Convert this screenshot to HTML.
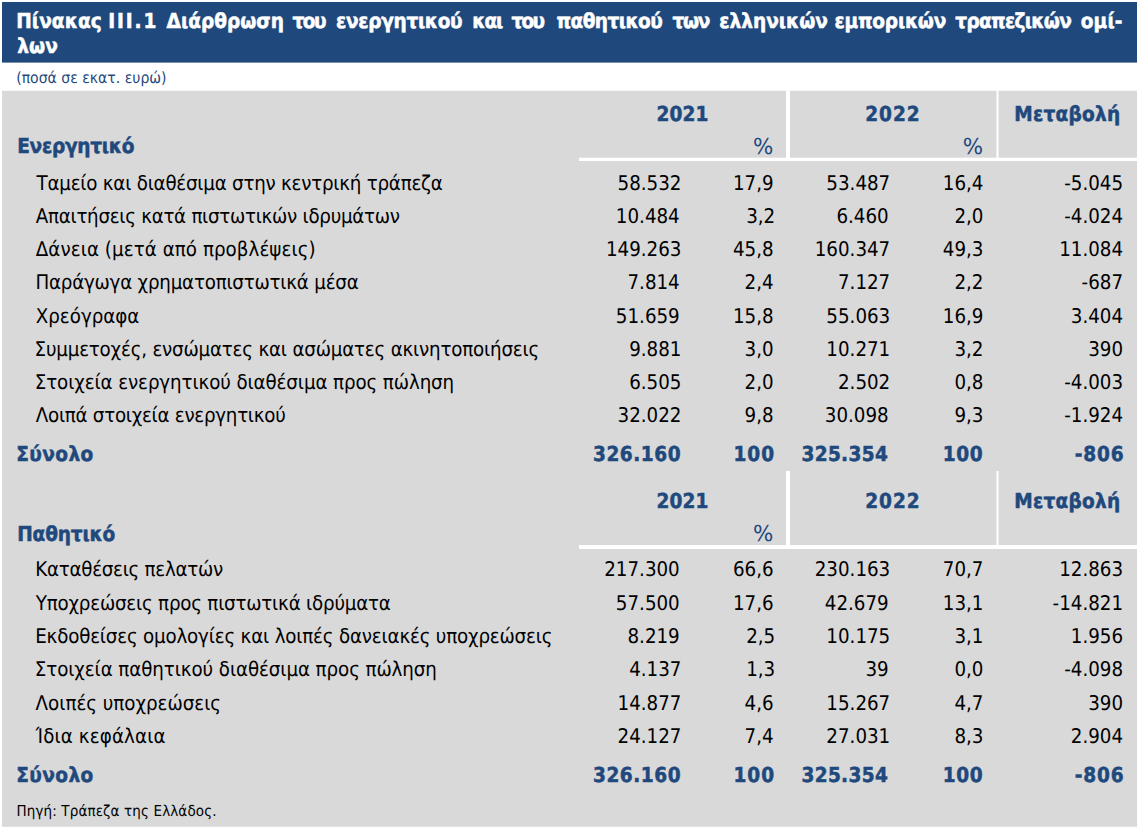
<!DOCTYPE html>
<html lang="el">
<head>
<meta charset="utf-8">
<title>Πίνακας ΙΙΙ.1</title>
<style>
html,body{margin:0;padding:0;background:#fff;}
body{width:1137px;height:828px;overflow:hidden;}
svg{display:block;font-family:"DejaVu Sans Condensed", "Liberation Sans", sans-serif;}
text{fill:#000;white-space:pre;text-rendering:geometricPrecision;}
.b{font-weight:bold;fill:#1f497d;stroke:#1f497d;stroke-width:0.5px;}
.w{font-weight:bold;fill:#fff;stroke:#fff;stroke-width:0.5px;}
.p{fill:#1f497d;}
.s{fill:#1f497d;}
.k{fill:#000;}
.ln{fill:#fff;}
</style>
</head>
<body>
<svg width="1137" height="828" viewBox="0 0 1137 828">
<rect x="0" y="0" width="1137" height="828" fill="#fff"/>
<rect x="2" y="2" width="1135" height="60.6" fill="#1f497d"/>
<rect x="2" y="90.8" width="1135" height="736" fill="#d9d9d9"/>
<rect class="ln" x="579" y="157.7" width="558" height="3.3"/>
<rect class="ln" x="786" y="91" width="4" height="67"/>
<rect class="ln" x="996.5" y="91" width="2" height="67"/>
<rect class="ln" x="579" y="545" width="558" height="4"/>
<rect class="ln" x="786" y="471" width="4" height="74"/>
<rect class="ln" x="996.5" y="471" width="2" height="74"/>
<text class="w" y="27.9" font-size="20.6"><tspan id="t0" x="16.20" textLength="85.54">Πίνακας</tspan> <tspan id="t1" x="108.20" textLength="48.11">ΙΙΙ.1</tspan> <tspan id="t2" x="166.60" textLength="117.28">Διάρθρωση</tspan> <tspan id="t3" x="292.50" textLength="34.08">του</tspan> <tspan id="t4" x="335.90" textLength="126.70">ενεργητικού</tspan> <tspan id="t5" x="472.30" textLength="31.02">και</tspan> <tspan id="t6" x="511.50" textLength="33.63">του</tspan> <tspan id="t7" x="556.40" textLength="106.38">παθητικού</tspan> <tspan id="t8" x="672.50" textLength="37.86">των</tspan> <tspan id="t9" x="719.20" textLength="108.70">ελληνικών</tspan> <tspan id="t10" x="834.40" textLength="111.92">εμπορικών</tspan> <tspan id="t11" x="955.30" textLength="116.53">τραπεζικών</tspan> <tspan id="t12" x="1080.70" textLength="41.81">ομί-</tspan></text>
<text id="t13" class="w" x="17.30" y="53.2" textLength="40.47" font-size="20.6">λων</text>
<text id="t14" class="s" x="16.20" y="82.9" textLength="150.33" font-size="15.6">(ποσά σε εκατ. ευρώ)</text>
<text id="t15" class="b" x="656.60" y="120.7" textLength="51.84" font-size="20.6">2021</text>
<text id="t16" class="b" x="865.20" y="120.7" textLength="54.51" font-size="20.6">2022</text>
<text id="t17" class="b" x="1014.20" y="120.7" textLength="105.95" font-size="20.6">Μεταβολή</text>
<text id="t18" class="p" transform="translate(773.30 153.7) scale(1.0800 1)" text-anchor="end" font-size="22">%</text>
<text id="t19" class="p" transform="translate(983.00 153.7) scale(1.0800 1)" text-anchor="end" font-size="22">%</text>
<text id="t20" class="b" x="17.20" y="153.2" textLength="117.18" font-size="20.6">Ενεργητικό</text>
<text id="t21" x="36.60" y="189.6" textLength="406.22" font-size="20.3">Ταμείο και διαθέσιμα στην κεντρική τράπεζα</text>
<text id="t22" x="681.40" y="189.6" text-anchor="end" textLength="63.83" font-size="20.3">58.532</text>
<text id="t23" x="773.60" y="189.6" text-anchor="end" textLength="40.62" font-size="20.3">17,9</text>
<text id="t24" x="890.20" y="189.6" text-anchor="end" textLength="63.83" font-size="20.3">53.487</text>
<text id="t25" x="983.40" y="189.6" text-anchor="end" textLength="40.62" font-size="20.3">16,4</text>
<text id="t26" x="1123.00" y="189.6" text-anchor="end" textLength="58.81" font-size="20.3">-5.045</text>
<text id="t27" x="35.80" y="222.8" textLength="364.16" font-size="20.3">Απαιτήσεις κατά πιστωτικών ιδρυμάτων</text>
<text id="t28" x="679.70" y="222.8" text-anchor="end" textLength="63.83" font-size="20.3">10.484</text>
<text id="t29" x="775.20" y="222.8" text-anchor="end" textLength="29.02" font-size="20.3">3,2</text>
<text id="t30" x="888.60" y="222.8" text-anchor="end" textLength="52.22" font-size="20.3">6.460</text>
<text id="t31" x="983.40" y="222.8" text-anchor="end" textLength="29.02" font-size="20.3">2,0</text>
<text id="t32" x="1123.00" y="222.8" text-anchor="end" textLength="58.81" font-size="20.3">-4.024</text>
<text id="t33" x="35.80" y="255.9" textLength="279.73" font-size="20.3">Δάνεια (μετά από προβλέψεις)</text>
<text id="t34" x="681.40" y="255.9" text-anchor="end" textLength="75.44" font-size="20.3">149.263</text>
<text id="t35" x="773.60" y="255.9" text-anchor="end" textLength="40.62" font-size="20.3">45,8</text>
<text id="t36" x="890.20" y="255.9" text-anchor="end" textLength="75.44" font-size="20.3">160.347</text>
<text id="t37" x="983.40" y="255.9" text-anchor="end" textLength="40.62" font-size="20.3">49,3</text>
<text id="t38" x="1123.00" y="255.9" text-anchor="end" textLength="63.83" font-size="20.3">11.084</text>
<text id="t39" x="35.40" y="288.9" textLength="323.33" font-size="20.3">Παράγωγα χρηματοπιστωτικά μέσα</text>
<text id="t40" x="679.70" y="288.9" text-anchor="end" textLength="52.22" font-size="20.3">7.814</text>
<text id="t41" x="773.60" y="288.9" text-anchor="end" textLength="29.02" font-size="20.3">2,4</text>
<text id="t42" x="890.20" y="288.9" text-anchor="end" textLength="52.22" font-size="20.3">7.127</text>
<text id="t43" x="983.40" y="288.9" text-anchor="end" textLength="29.02" font-size="20.3">2,2</text>
<text id="t44" x="1123.00" y="288.9" text-anchor="end" textLength="41.41" font-size="20.3">-687</text>
<text id="t45" x="35.80" y="322.5" textLength="103.59" font-size="20.3">Χρεόγραφα</text>
<text id="t46" x="679.70" y="322.5" text-anchor="end" textLength="63.83" font-size="20.3">51.659</text>
<text id="t47" x="773.60" y="322.5" text-anchor="end" textLength="40.62" font-size="20.3">15,8</text>
<text id="t48" x="890.20" y="322.5" text-anchor="end" textLength="63.83" font-size="20.3">55.063</text>
<text id="t49" x="983.40" y="322.5" text-anchor="end" textLength="40.62" font-size="20.3">16,9</text>
<text id="t50" x="1123.00" y="322.5" text-anchor="end" textLength="52.22" font-size="20.3">3.404</text>
<text id="t51" x="34.60" y="355.7" textLength="504.55" font-size="20.3">Συμμετοχές, ενσώματες και ασώματες ακινητοποιήσεις</text>
<text id="t52" x="681.40" y="355.7" text-anchor="end" textLength="52.22" font-size="20.3">9.881</text>
<text id="t53" x="773.60" y="355.7" text-anchor="end" textLength="29.02" font-size="20.3">3,0</text>
<text id="t54" x="890.20" y="355.7" text-anchor="end" textLength="63.83" font-size="20.3">10.271</text>
<text id="t55" x="983.40" y="355.7" text-anchor="end" textLength="29.02" font-size="20.3">3,2</text>
<text id="t56" x="1123.00" y="355.7" text-anchor="end" textLength="34.83" font-size="20.3">390</text>
<text id="t57" x="34.80" y="388.8" textLength="419.37" font-size="20.3">Στοιχεία ενεργητικού διαθέσιμα προς πώληση</text>
<text id="t58" x="681.40" y="388.8" text-anchor="end" textLength="52.22" font-size="20.3">6.505</text>
<text id="t59" x="773.60" y="388.8" text-anchor="end" textLength="29.02" font-size="20.3">2,0</text>
<text id="t60" x="890.20" y="388.8" text-anchor="end" textLength="52.22" font-size="20.3">2.502</text>
<text id="t61" x="983.40" y="388.8" text-anchor="end" textLength="29.02" font-size="20.3">0,8</text>
<text id="t62" x="1123.00" y="388.8" text-anchor="end" textLength="58.81" font-size="20.3">-4.003</text>
<text id="t63" x="35.80" y="421.6" textLength="249.94" font-size="20.3">Λοιπά στοιχεία ενεργητικού</text>
<text id="t64" x="681.40" y="421.6" text-anchor="end" textLength="63.83" font-size="20.3">32.022</text>
<text id="t65" x="773.60" y="421.6" text-anchor="end" textLength="29.02" font-size="20.3">9,8</text>
<text id="t66" x="888.60" y="421.6" text-anchor="end" textLength="63.83" font-size="20.3">30.098</text>
<text id="t67" x="983.40" y="421.6" text-anchor="end" textLength="29.02" font-size="20.3">9,3</text>
<text id="t68" x="1123.00" y="421.6" text-anchor="end" textLength="58.81" font-size="20.3">-1.924</text>
<text id="t69" class="b" x="16.20" y="460.7" textLength="77.14" font-size="20.6">Σύνολο</text>
<text id="t70" class="b" x="593.00" y="460.7" textLength="87.54" font-size="20.6">326.160</text>
<text id="t71" class="b" x="733.40" y="460.7" textLength="40.79" font-size="20.6">100</text>
<text id="t72" class="b" x="801.40" y="460.7" textLength="86.49" font-size="20.6">325.354</text>
<text id="t73" class="b" x="942.70" y="460.7" textLength="40.04" font-size="20.6">100</text>
<text id="t74" class="b" x="1074.70" y="460.7" textLength="48.91" font-size="20.6">-806</text>
<text id="t75" class="b" x="656.60" y="507.7" textLength="51.84" font-size="20.6">2021</text>
<text id="t76" class="b" x="865.20" y="507.7" textLength="54.51" font-size="20.6">2022</text>
<text id="t77" class="b" x="1014.20" y="507.7" textLength="105.95" font-size="20.6">Μεταβολή</text>
<text id="t78" class="p" transform="translate(773.30 540.7) scale(1.0800 1)" text-anchor="end" font-size="22">%</text>
<text id="t79" class="b" x="17.20" y="540.8" textLength="98.08" font-size="20.6">Παθητικό</text>
<text id="t80" x="35.20" y="576.4" textLength="188.03" font-size="20.3">Καταθέσεις πελατών</text>
<text id="t81" x="679.70" y="576.4" text-anchor="end" textLength="75.44" font-size="20.3">217.300</text>
<text id="t82" x="773.60" y="576.4" text-anchor="end" textLength="40.62" font-size="20.3">66,6</text>
<text id="t83" x="890.20" y="576.4" text-anchor="end" textLength="75.44" font-size="20.3">230.163</text>
<text id="t84" x="983.40" y="576.4" text-anchor="end" textLength="40.62" font-size="20.3">70,7</text>
<text id="t85" x="1123.00" y="576.4" text-anchor="end" textLength="63.83" font-size="20.3">12.863</text>
<text id="t86" x="35.80" y="609.6" textLength="355.03" font-size="20.3">Υποχρεώσεις προς πιστωτικά ιδρύματα</text>
<text id="t87" x="679.70" y="609.6" text-anchor="end" textLength="63.83" font-size="20.3">57.500</text>
<text id="t88" x="773.60" y="609.6" text-anchor="end" textLength="40.62" font-size="20.3">17,6</text>
<text id="t89" x="888.60" y="609.6" text-anchor="end" textLength="63.83" font-size="20.3">42.679</text>
<text id="t90" x="983.40" y="609.6" text-anchor="end" textLength="40.62" font-size="20.3">13,1</text>
<text id="t91" x="1123.00" y="609.6" text-anchor="end" textLength="70.42" font-size="20.3">-14.821</text>
<text id="t92" x="35.20" y="642.9" textLength="517.23" font-size="20.3">Εκδοθείσες ομολογίες και λοιπές δανειακές υποχρεώσεις</text>
<text id="t93" x="679.70" y="642.9" text-anchor="end" textLength="52.22" font-size="20.3">8.219</text>
<text id="t94" x="775.20" y="642.9" text-anchor="end" textLength="29.02" font-size="20.3">2,5</text>
<text id="t95" x="890.20" y="642.9" text-anchor="end" textLength="63.83" font-size="20.3">10.175</text>
<text id="t96" x="983.40" y="642.9" text-anchor="end" textLength="29.02" font-size="20.3">3,1</text>
<text id="t97" x="1123.00" y="642.9" text-anchor="end" textLength="52.22" font-size="20.3">1.956</text>
<text id="t98" x="34.80" y="676.4" textLength="402.07" font-size="20.3">Στοιχεία παθητικού διαθέσιμα προς πώληση</text>
<text id="t99" x="681.40" y="676.4" text-anchor="end" textLength="52.22" font-size="20.3">4.137</text>
<text id="t100" x="775.20" y="676.4" text-anchor="end" textLength="29.02" font-size="20.3">1,3</text>
<text id="t101" x="888.60" y="676.4" text-anchor="end" textLength="23.22" font-size="20.3">39</text>
<text id="t102" x="983.40" y="676.4" text-anchor="end" textLength="29.02" font-size="20.3">0,0</text>
<text id="t103" x="1123.00" y="676.4" text-anchor="end" textLength="58.81" font-size="20.3">-4.098</text>
<text id="t104" x="35.60" y="709.5" textLength="185.44" font-size="20.3">Λοιπές υποχρεώσεις</text>
<text id="t105" x="681.40" y="709.5" text-anchor="end" textLength="63.83" font-size="20.3">14.877</text>
<text id="t106" x="773.60" y="709.5" text-anchor="end" textLength="29.02" font-size="20.3">4,6</text>
<text id="t107" x="890.20" y="709.5" text-anchor="end" textLength="63.83" font-size="20.3">15.267</text>
<text id="t108" x="983.40" y="709.5" text-anchor="end" textLength="29.02" font-size="20.3">4,7</text>
<text id="t109" x="1123.00" y="709.5" text-anchor="end" textLength="34.83" font-size="20.3">390</text>
<text id="t110" x="35.60" y="742.5" textLength="129.95" font-size="20.3">Ίδια κεφάλαια</text>
<text id="t111" x="681.40" y="742.5" text-anchor="end" textLength="63.83" font-size="20.3">24.127</text>
<text id="t112" x="773.60" y="742.5" text-anchor="end" textLength="29.02" font-size="20.3">7,4</text>
<text id="t113" x="890.20" y="742.5" text-anchor="end" textLength="63.83" font-size="20.3">27.031</text>
<text id="t114" x="983.40" y="742.5" text-anchor="end" textLength="29.02" font-size="20.3">8,3</text>
<text id="t115" x="1123.00" y="742.5" text-anchor="end" textLength="52.22" font-size="20.3">2.904</text>
<text id="t116" class="b" x="16.20" y="781.8" textLength="77.14" font-size="20.6">Σύνολο</text>
<text id="t117" class="b" x="593.00" y="781.8" textLength="87.54" font-size="20.6">326.160</text>
<text id="t118" class="b" x="733.40" y="781.8" textLength="40.79" font-size="20.6">100</text>
<text id="t119" class="b" x="801.40" y="781.8" textLength="86.49" font-size="20.6">325.354</text>
<text id="t120" class="b" x="942.70" y="781.8" textLength="40.04" font-size="20.6">100</text>
<text id="t121" class="b" x="1074.70" y="781.8" textLength="48.91" font-size="20.6">-806</text>
<text id="t122" class="k" x="16.40" y="816.1" textLength="200.15" font-size="15">Πηγή: Τράπεζα της Ελλάδος.</text>
</svg>
</body>
</html>
